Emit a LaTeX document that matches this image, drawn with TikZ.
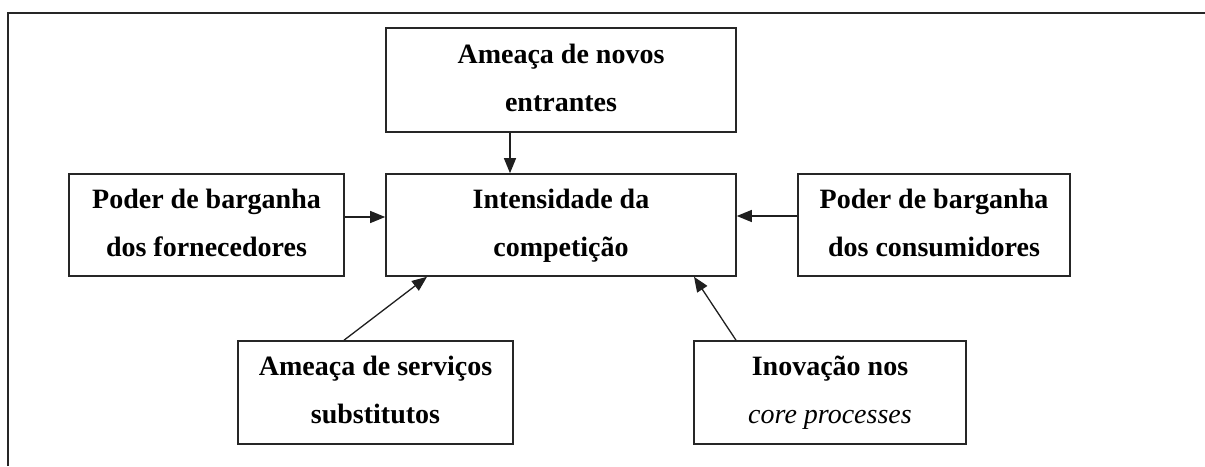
\documentclass[tikz,border=0pt]{standalone}
\usepackage{fontspec}
\setmainfont{Liberation Serif}
\usetikzlibrary{arrows.meta}
\newcommand\ls{\rule[-17pt]{0pt}{48pt}}
\begin{document}
\begin{tikzpicture}[x=1pt,y=-1pt,
  box/.style={draw=black!85,line width=1.6pt,rectangle,inner sep=0pt,align=center,
    font=\fontsize{28}{48}\selectfont\bfseries,text=black},
  arr/.style={draw=black!88,line width=1.3pt,-{Triangle[length=15pt,width=12pt]}}]
\useasboundingbox (0,0) rectangle (1205,466);
% outer frame (only left and top edges visible)
\draw[black!85,line width=1.7pt] (8,466) -- (8,13) -- (1205,13);
% boxes
\node[box,minimum width=350pt,minimum height=104pt] (top) at (561,80) {\ls Ameaça de novos\\\ls entrantes};
\node[box,minimum width=350pt,minimum height=102pt] (center) at (561,225) {\ls Intensidade da\\\ls competição};
\node[box,minimum width=275pt,minimum height=102pt] (left) at (206.5,225) {\ls Poder de barganha\\\ls dos fornecedores};
\node[box,minimum width=272pt,minimum height=102pt] (right) at (934,225) {\ls Poder de barganha\\\ls dos consumidores};
\node[box,minimum width=275pt,minimum height=103pt] (bl) at (375.5,392.5) {\ls Ameaça de serviços\\\ls substitutos};
\node[box,minimum width=272pt,minimum height=103pt] (br) at (830,392.5) {\ls Inovação nos\\\ls{\normalfont\itshape core processes}};
% arrows
\draw[arr] ([xshift=-51pt]top.south) -- ([xshift=-51pt]center.north);
\draw[arr] ([yshift=8pt]left.east) -- ([yshift=8pt]center.west);
\draw[arr] ([yshift=9pt]right.west) -- ([yshift=9pt]center.east);
\draw[arr] ([xshift=-31.5pt]bl.north) -- ([xshift=-134pt]center.south);
\draw[arr] ([xshift=-94pt]br.north) -- ([xshift=133pt]center.south);
\end{tikzpicture}
\end{document}
